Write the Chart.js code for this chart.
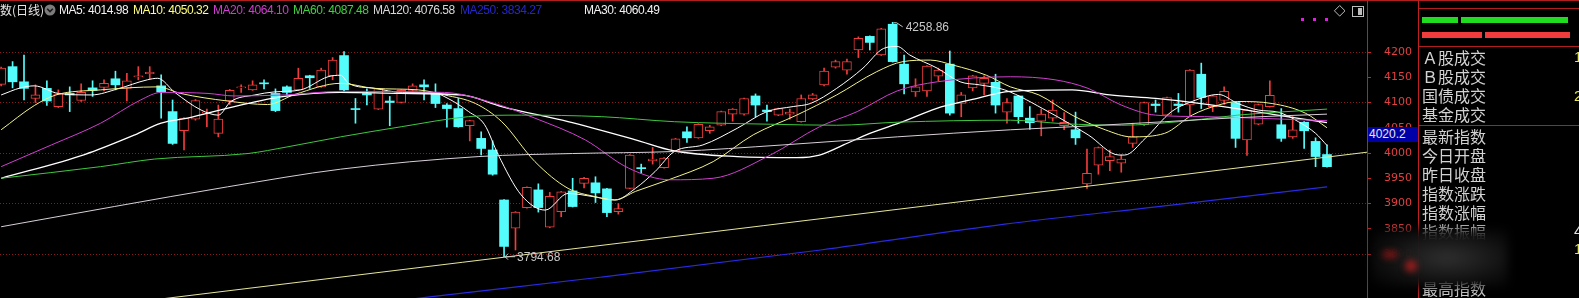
<!DOCTYPE html>
<html>
<head>
<meta charset="utf-8">
<script src="https://cdn.jsdelivr.net/npm/chart.js@4.4.1/dist/chart.umd.min.js"></script>
<style>
  html, body { margin: 0; padding: 0; background: #000; overflow: hidden; }
  body { width: 1579px; height: 298px; position: relative; font-family: "Liberation Sans", Arial, sans-serif; }
  #chartBox { position: absolute; left: 0; top: 0; width: 1418px; height: 298px; }
  .hline { position: absolute; height: 1px; background: #b01e1e; }
  .legend { position: absolute; top: 3px; font-size: 12px; letter-spacing: -0.45px; white-space: nowrap; line-height: 14px; }
  #panel { position: absolute; left: 1418px; top: 0; width: 161px; height: 298px; border-left: 1px solid #c02020; }
  .row { position: absolute; left: 3px; font-family: "Noto Sans CJK SC", sans-serif; font-size: 16px; line-height: 18px; color: #d2d2d2; white-space: nowrap; }
  .num { position: absolute; left: 155px; font-family: "Liberation Sans", Arial, sans-serif; font-size: 15px; line-height: 18px; }
  .bar { position: absolute; height: 6px; }
  #priceBox { position: absolute; left: 1368px; top: 127px; width: 50px; height: 15px; background: #0000a8; color: #e8e8e8;
              font-size: 12px; line-height: 15px; padding-left: 1px; box-sizing: border-box; font-family: "Liberation Sans", Arial, sans-serif; }
  #fog { position: absolute; left: 1372px; top: 229px; width: 136px; height: 58px; filter: blur(5px);
         background: radial-gradient(ellipse at 55% 50%, rgba(48,48,48,0.98) 0%, rgba(16,16,16,0.97) 60%, rgba(0,0,0,0.6) 100%); }
  .smudge { position: absolute; filter: blur(3px); background: rgba(150,20,20,0.7); border-radius: 50%; }
</style>
</head>
<body>
<div id="chartBox"><canvas id="kChart" width="1418" height="298"></canvas></div>
<div class="hline" style="left:0;top:0;width:1579px;"></div>

<div class="legend" style="left:0;color:#e6e6e6;font-family:'Noto Sans CJK SC',sans-serif;letter-spacing:0;">数(日线)</div>
<svg style="position:absolute;left:44px;top:4px" width="12" height="12">
  <circle cx="6" cy="6" r="5.5" fill="#7c7c7c"/>
  <path d="M3.2 4.8 L6 7.6 L8.8 4.8" stroke="#1a1a1a" stroke-width="1.6" fill="none"/>
</svg>
<div class="legend" style="left:59px;color:#f2f2f2">MA5: 4014.98</div>
<div class="legend" style="left:133px;color:#ffff7a">MA10: 4050.32</div>
<div class="legend" style="left:213px;color:#d23cd2">MA20: 4064.10</div>
<div class="legend" style="left:293px;color:#3ed23e">MA60: 4087.48</div>
<div class="legend" style="left:373px;color:#d8d8d8">MA120: 4076.58</div>
<div class="legend" style="left:460px;color:#2626c8">MA250: 3834.27</div>
<div class="legend" style="left:584px;color:#f2f2f2">MA30: 4060.49</div>

<svg style="position:absolute;left:1298px;top:3px" width="70" height="20">
  <rect x="3" y="15" width="3" height="3" fill="#e020e0"/>
  <rect x="15" y="15" width="3" height="3" fill="#e020e0"/>
  <rect x="27" y="15" width="3" height="3" fill="#e020e0"/>
  <path d="M41.7 2.5 L47 7.8 L41.7 13.1 L36.4 7.8 Z" stroke="#bdbdbd" stroke-width="1" fill="none"/>
  <rect x="54.5" y="3.5" width="11" height="10" stroke="#bdbdbd" stroke-width="1" fill="none"/>
  <rect x="60" y="5" width="4" height="7" fill="#bdbdbd"/>
</svg>

<div id="priceBox">4020.2</div>

<div id="panel">
  <div class="hline" style="left:0;top:8px;width:161px;"></div>
  <div class="bar" style="left:3px;top:17px;width:36px;background:#20dc20"></div>
  <div class="bar" style="left:42px;top:17px;width:107px;background:#20dc20"></div>
  <div class="bar" style="left:3px;top:32px;width:60px;background:#f03c3c"></div>
  <div class="bar" style="left:66px;top:32px;width:85px;background:#f03c3c"></div>
  <div class="hline" style="left:0;top:46px;width:161px;"></div>
  <div class="row" style="top:48px">Ａ股成交</div>
  <div class="row" style="top:67px">Ｂ股成交</div>
  <div class="row" style="top:86px">国债成交</div>
  <div class="row" style="top:105px">基金成交</div>
  <div class="num" style="top:48px;color:#e6e65a">1</div>
  <div class="num" style="top:87px;color:#e6e65a">2</div>
  <div class="hline" style="left:0;top:125px;width:161px;"></div>
  <div class="row" style="top:127px">最新指数</div>
  <div class="row" style="top:146px">今日开盘</div>
  <div class="row" style="top:165px">昨日收盘</div>
  <div class="row" style="top:184px">指数涨跌</div>
  <div class="row" style="top:203px">指数涨幅</div>
  <div class="row" style="top:222px">指数振幅</div>
  <div class="row" style="top:279px">最高指数</div>
  <div class="num" style="top:222px;color:#e0e0e0">4</div>
  <div class="num" style="top:240px;color:#e6e65a">1</div>
</div>

<div id="fog"></div>
<div class="smudge" style="left:1382px;top:250px;width:16px;height:9px"></div>
<div class="smudge" style="left:1405px;top:260px;width:12px;height:12px;background:rgba(190,30,30,0.75)"></div>

<script>
// --- Candles (index 0 = leftmost day) ---
const opens = [4136, 4171, 4141, 4108, 4128, 4092, 4118, 4104, 4129, 4130, 4147, 4128, 4151, 4157, 4133, 4082, 4044, 4067, 4079, 4039,
  4103, 4129, 4125, 4139, 4118, 4131, 4125, 4153, 4131, 4153, 4193, 4088, 4118, 4087, 4103, 4100, 4124, 4135, 4120, 4095,
  4088, 4054, 4029, 4006, 3907, 3851, 3892, 3927, 3853, 3884, 3925, 3940, 3941, 3929, 3884, 3930, 3971, 3985, 3971, 4004,
  4042, 4030, 4044, 4055, 4077, 4077, 4113, 4085, 4075, 4077, 4062, 4107, 4135, 4170, 4164, 4204, 4231, 4194, 4255, 4176,
  4121, 4123, 4152, 4176, 4098, 4129, 4138, 4140, 4081, 4113, 4069, 4063, 4069, 4054, 4046, 3939, 3976, 3985, 3980, 4019,
  4056, 4097, 4075, 4097, 4095, 4156, 4092, 4104, 4100, 4026, 4057, 4092, 4056, 4032, 4061, 4023, 3997];
const highs = [4170, 4181, 4194, 4135, 4143, 4125, 4131, 4137, 4143, 4145, 4162, 4158, 4171, 4171, 4155, 4105, 4070, 4106, 4087, 4095,
  4126, 4135, 4143, 4145, 4127, 4133, 4168, 4154, 4168, 4189, 4201, 4108, 4127, 4128, 4112, 4125, 4137, 4145, 4137, 4098,
  4108, 4065, 4042, 4024, 3908, 3884, 3933, 3939, 3922, 3924, 3950, 3952, 3953, 3930, 3900, 3997, 3978, 4011, 3991, 4029,
  4052, 4058, 4055, 4083, 4088, 4109, 4117, 4095, 4089, 4087, 4115, 4118, 4168, 4184, 4186, 4230, 4232, 4247, 4258.86, 4194,
  4147, 4173, 4168, 4202, 4120, 4154, 4153, 4156, 4108, 4114, 4092, 4087, 4105, 4080, 4081, 4008, 4012, 4006, 3996, 4059,
  4101, 4105, 4111, 4118, 4165, 4178, 4114, 4131, 4101, 4086, 4097, 4143, 4088, 4072, 4062, 4030, 4016];
const lows = [4133, 4129, 4105, 4100, 4094, 4090, 4082, 4102, 4112, 4123, 4125, 4103, 4145, 4147, 4069, 4017, 4006, 4065, 4052, 4032,
  4096, 4120, 4124, 4127, 4082, 4115, 4124, 4128, 4130, 4145, 4122, 4059, 4095, 4086, 4054, 4099, 4123, 4105, 4090, 4051,
  4051, 4024, 3996, 3956, 3794.68, 3808, 3891, 3883, 3852, 3874, 3893, 3931, 3902, 3874, 3879, 3929, 3960, 3978, 3970, 4003,
  4021, 4029, 4039, 4054, 4063, 4075, 4072, 4063, 4074, 4067, 4061, 4105, 4133, 4168, 4156, 4189, 4204, 4193, 4180, 4117,
  4112, 4112, 4143, 4075, 4072, 4123, 4115, 4079, 4059, 4059, 4047, 4034, 4063, 4046, 4017, 3930, 3958, 3965, 3962, 4011,
  4054, 4081, 4074, 4081, 4072, 4088, 4082, 4096, 4011, 3995, 4056, 4091, 4023, 4029, 4009, 3973, 3972];
const closes = [4168, 4141, 4128, 4115, 4103, 4117, 4115, 4120, 4124, 4138, 4135, 4143, 4153, 4160, 4121, 4019, 4069, 4104, 4081, 4067,
  4124, 4131, 4135, 4137, 4084, 4120, 4148, 4149, 4164, 4184, 4125, 4086, 4115, 4127, 4100, 4124, 4133, 4131, 4098, 4088,
  4052, 4064, 4009, 3958, 3815, 3883, 3932, 3892, 3914, 3923, 3894, 3950, 3921, 3882, 3890, 3996, 3969, 3988, 3990, 4028,
  4030, 4057, 4052, 4082, 4087, 4108, 4095, 4082, 4088, 4081, 4108, 4115, 4162, 4181, 4181, 4227, 4219, 4246, 4181, 4137,
  4131, 4172, 4164, 4079, 4115, 4153, 4148, 4095, 4100, 4072, 4060, 4077, 4085, 4061, 4030, 3960, 4011, 3993, 3988, 4032,
  4100, 4094, 4110, 4094, 4164, 4110, 4113, 4122, 4029, 4085, 4096, 4114, 4029, 4046, 4044, 3993, 3973];

// --- Moving averages as [day index, value] ---
const ma5Pts = [[0, 4115], [1.7, 4129], [2.9, 4133], [5, 4118], [7.9, 4115], [10.2, 4127], [12.8, 4145], [13.7, 4148], [15.2, 4120],
  [17.5, 4085], [19, 4075], [20.1, 4102], [22.2, 4115], [23.9, 4121], [26.2, 4125], [28.6, 4151], [29.7, 4154], [30.4, 4138],
  [32.7, 4128], [35.1, 4120], [37.7, 4120], [39.1, 4108], [40.9, 4082], [42.3, 4056], [43.5, 3996], [45.5, 3917], [47.6, 3887],
  [49.6, 3920], [51.7, 3914], [53.7, 3907], [55.5, 3930], [57.2, 3963], [58.9, 4003], [61.4, 4016], [64.4, 4049], [67, 4082],
  [69.3, 4092], [70.8, 4098], [73.1, 4128], [75.4, 4168], [77.2, 4207], [78.4, 4211], [79.5, 4194], [81.9, 4168], [83.9, 4141],
  [85.6, 4135], [87.8, 4125], [91.6, 4082], [95.1, 4036], [97.8, 3996], [98.3, 3996], [100.1, 4029], [102.4, 4082], [104.2, 4102],
  [106.5, 4116], [108.2, 4098], [110, 4085], [111.7, 4081], [113.5, 4062], [115, 4039], [116, 4015]];
const ma10Pts = [[0, 4046], [2.9, 4094], [4.8, 4115], [8.7, 4125], [13.7, 4131], [15.7, 4118], [19.8, 4103], [23.3, 4096], [25.7, 4116],
  [29.7, 4138], [32.7, 4128], [36.5, 4125], [38.8, 4115], [41.5, 4098], [43.8, 4062], [46.7, 3983], [49.6, 3930], [51.9, 3914],
  [53.7, 3907], [55.5, 3924], [58.4, 3947], [62.3, 3983], [65.8, 4036], [69.6, 4075], [73.1, 4115], [76.6, 4161], [78.9, 4181],
  [81.3, 4184], [83.3, 4174], [86.2, 4154], [88.3, 4131], [90.8, 4115], [93.7, 4075], [96.6, 4046], [98.9, 4032], [101.8, 4039],
  [104.2, 4075], [106.5, 4095], [108.2, 4102], [111.2, 4098], [114.1, 4079], [116, 4050]];
const ma20Pts = [[0, 3973], [4.4, 4016], [8.7, 4059], [12.2, 4105], [14, 4120], [18.1, 4118], [20.4, 4113], [24.8, 4115], [29.7, 4122],
  [38.8, 4120], [43.2, 4098], [46.7, 4069], [51.1, 4026], [54.9, 3970], [58.5, 3947], [62.3, 3950], [67.3, 3996], [71.6, 4052],
  [74.9, 4082], [78.4, 4123], [81.9, 4141], [88.3, 4151], [92.2, 4145], [95.1, 4128], [98, 4095], [101, 4075], [105.3, 4072],
  [109.7, 4069], [116, 4064]];
const ma30Pts = [[0, 3950], [7.3, 3997], [11.7, 4036], [14, 4059], [16.3, 4069], [20.4, 4092], [24.8, 4112], [29.7, 4120], [35, 4118],
  [40.3, 4115], [43.8, 4092], [49.6, 4062], [55.5, 4026], [58.9, 4004], [64.4, 3993], [69.6, 3991], [71.6, 3996], [73.7, 4016],
  [76, 4039], [78.9, 4062], [81.8, 4088], [84.8, 4105], [88.3, 4122], [93.7, 4125], [97, 4115], [101, 4108], [105, 4098],
  [109, 4085], [112.5, 4072], [116, 4060]];
const ma60Pts = [[0, 3950], [8.7, 3973], [13.4, 3988], [21.6, 3999], [25, 4012], [29.7, 4032], [35, 4052], [40.9, 4072], [45.5, 4075],
  [52.5, 4072], [58.9, 4062], [67.3, 4057], [73.1, 4055], [78.4, 4061], [88.3, 4065], [93, 4058], [98, 4055], [103, 4062],
  [108.2, 4075], [116, 4087]];
const ma120Pts = [[0, 3854], [9.9, 3894], [19.8, 3933], [29.7, 3968], [41.8, 3993], [50, 3999], [58.9, 4003], [68.4, 4016], [78.4, 4032],
  [88.3, 4046], [93.7, 4052], [101.8, 4062], [108.2, 4070], [116, 4077]];
const ma250Pts = [[25, 3682], [37.5, 3715], [52.4, 3754], [71.7, 3808], [87.8, 3859], [102.4, 3897], [116, 3933]];
const trendPts = [[10, 3700], [119.5, 4001.6]];

// --- Price axis ---
const yTicks = [3800, 3850, 3900, 3950, 4000, 4050, 4100, 4150, 4200];
const yMin = 3712.9, yMax = 4303;

const upColor = "#f03c3c";
const downColor = "#54fcfc";
const isUp = closes.map((c, i) => c >= opens[i]);

const pts = arr => arr.map(p => ({ x: p[0], y: p[1] }));

function maLine(data, color, width) {
  return {
    type: "line",
    data: pts(data),
    borderColor: color,
    borderWidth: width,
    pointRadius: 0,
    cubicInterpolationMode: "monotone",
    order: 1
  };
}

// --- Labels for highest / lowest price ---
const markLabels = {
  id: "markLabels",
  afterDatasetsDraw(chart) {
    const { ctx, scales: { x, y } } = chart;
    const hi = highs.indexOf(Math.max(...highs));
    const lo = lows.indexOf(Math.min(...lows));
    ctx.save();
    ctx.strokeStyle = "#c8c8c8";
    ctx.fillStyle = "#c8c8c8";
    ctx.lineWidth = 1;
    ctx.font = "12px 'Liberation Sans', Arial, sans-serif";
    ctx.textBaseline = "middle";

    let px = x.getPixelForValue(hi), py = y.getPixelForValue(highs[hi]);
    ctx.beginPath();
    ctx.moveTo(px + 1, py + 0.5);
    ctx.lineTo(px + 4, py + 0.5);
    ctx.lineTo(px + 10, py + 4.5);
    ctx.stroke();
    ctx.fillText(highs[hi].toFixed(2), px + 13, py + 5);

    px = x.getPixelForValue(lo); py = y.getPixelForValue(lows[lo]);
    ctx.beginPath();
    ctx.moveTo(px + 1, py);
    ctx.lineTo(px + 11, py);
    ctx.moveTo(px + 4, py - 3);
    ctx.lineTo(px + 1, py);
    ctx.lineTo(px + 4, py + 3);
    ctx.stroke();
    ctx.fillText(lows[lo].toFixed(2), px + 13, py + 1);
    ctx.restore();
  }
};

const ctx = document.getElementById("kChart").getContext("2d");
new Chart(ctx, {
  data: {
    datasets: [
      {
        type: "bar",
        data: lows.map((l, i) => ({ x: i, y: [l, highs[i]] })),
        backgroundColor: isUp.map(u => (u ? upColor : downColor)),
        barThickness: 1,
        grouped: false,
        order: 3
      },
      {
        type: "bar",
        data: opens.map((o, i) => ({ x: i, y: [o, closes[i]] })),
        backgroundColor: isUp.map(u => (u ? "#000000" : downColor)),
        borderColor: isUp.map(u => (u ? upColor : downColor)),
        borderWidth: isUp.map(u => (u ? 1 : 0)),
        borderSkipped: false,
        barThickness: 9,
        grouped: false,
        order: 2
      },
      maLine(trendPts, "#e6e69a", 1),
      maLine(ma250Pts, "#2a2ae0", 1.2),
      maLine(ma120Pts, "#d8cfd8", 1),
      maLine(ma60Pts, "#3ec83e", 1),
      maLine(ma20Pts, "#d040d0", 1),
      maLine(ma30Pts, "#ffffff", 1.3),
      maLine(ma10Pts, "#f4f48a", 1),
      maLine(ma5Pts, "#ffffff", 1)
    ]
  },
  options: {
    responsive: false,
    animation: false,
    devicePixelRatio: 1,
    layout: { padding: 0 },
    plugins: { legend: { display: false }, tooltip: { enabled: false } },
    scales: {
      x: { type: "linear", offset: false, min: -0.1, max: 119.5, display: false },
      y: {
        position: "right",
        min: yMin,
        max: yMax,
        afterBuildTicks: s => { s.ticks = yTicks.map(v => ({ value: v })); },
        afterFit: s => { s.width = 51; s.paddingTop = 0; s.paddingBottom = 0; },
        ticks: { color: "#e04040", padding: 13, font: { family: "DejaVu Sans", size: 11 }, callback: v => String(v) },
        grid: {
          color: c => (c.tick && c.tick.value % 100 === 0 ? "#8a1a1a" : "rgba(0,0,0,0)"),
          tickColor: "#c02828",
          tickLength: 4
        },
        border: { color: "#c02020", dash: [1, 2] }
      }
    }
  },
  plugins: [markLabels]
});
</script>
</body>
</html>
